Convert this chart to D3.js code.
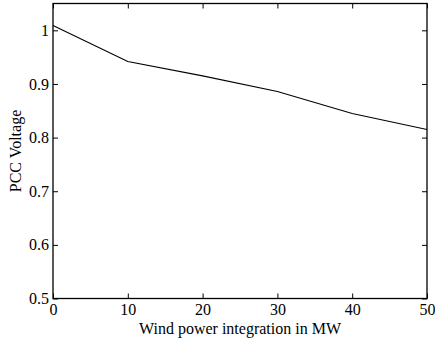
<!DOCTYPE html>
<html>
<head>
<meta charset="utf-8">
<script src="https://cdn.jsdelivr.net/npm/d3@7"></script>
<style>
  body { margin: 0; background: #fff; }
  text { font-family: "Liberation Serif", "Times New Roman", serif; fill: #000; }
</style>
</head>
<body>
<div id="chart"></div>
<script>
// data
var windMW = [0, 10, 20, 30, 40, 50];
var pccVoltage = [1.009, 0.942, 0.915, 0.886, 0.845, 0.815];
var xTicks = [0, 10, 20, 30, 40, 50];
var yTicks = [0.5, 0.6, 0.7, 0.8, 0.9, 1];

var width = 435, height = 343;
var margin = { top: 3.5, right: 8, bottom: 44.5, left: 53 };
var w = width - margin.left - margin.right;
var h = height - margin.top - margin.bottom;

var svg = d3.select("#chart")
    .append("svg")
    .attr("width", width)
    .attr("height", height)
    .append("g")
    .attr("transform", `translate(${margin.left},${margin.top})`);

var x = d3.scaleLinear().domain([0, 50]).range([0, w]);
var y = d3.scaleLinear().domain([0.5, 1.05]).range([h, 0]);

// ticks point inwards, mirrored on all four sides
var tl = 5;
function styleAxis(g) {
  g.select(".domain").remove();
  g.selectAll(".tick line").attr("stroke", "#000").attr("stroke-width", 1);
  g.selectAll(".tick text").style("font-size", "16px");
}

svg.append("g")
    .attr("transform", `translate(0,${h})`)
    .call(d3.axisBottom(x).tickValues(xTicks).tickSize(-tl).tickFormat(d3.format("d")))
    .call(styleAxis)
    .selectAll(".tick text")
    .attr("y", 16.5)
    .attr("dy", null);

svg.append("g")
    .call(d3.axisTop(x).tickValues(xTicks).tickSize(-tl).tickFormat(""))
    .call(styleAxis);

svg.append("g")
    .call(d3.axisLeft(y).tickValues(yTicks).tickSize(-tl).tickPadding(4).tickFormat(d => d === 1 ? "1" : d3.format(".1f")(d)))
    .call(styleAxis);

svg.append("g")
    .attr("transform", `translate(${w},0)`)
    .call(d3.axisRight(y).tickValues(yTicks).tickSize(-tl).tickFormat(""))
    .call(styleAxis);

// frame
svg.append("rect")
    .attr("width", w)
    .attr("height", h)
    .attr("fill", "none")
    .attr("stroke", "#000")
    .attr("stroke-width", 1.3);

// the line
var line = d3.line()
    .x((d, i) => x(windMW[i]))
    .y(d => y(d));

svg.append("path")
    .datum(pccVoltage)
    .attr("d", line)
    .attr("fill", "none")
    .attr("stroke", "#000")
    .attr("stroke-width", 1.1);

// axis labels
svg.append("text")
    .attr("x", w / 2)
    .attr("y", h + 35.5)
    .attr("text-anchor", "middle")
    .style("font-size", "16px")
    .text("Wind power integration in MW");

svg.append("text")
    .attr("transform", `translate(${21 - margin.left},${h / 2}) rotate(-90)`)
    .attr("text-anchor", "middle")
    .style("font-size", "16px")
    .text("PCC Voltage");
</script>
</body>
</html>
